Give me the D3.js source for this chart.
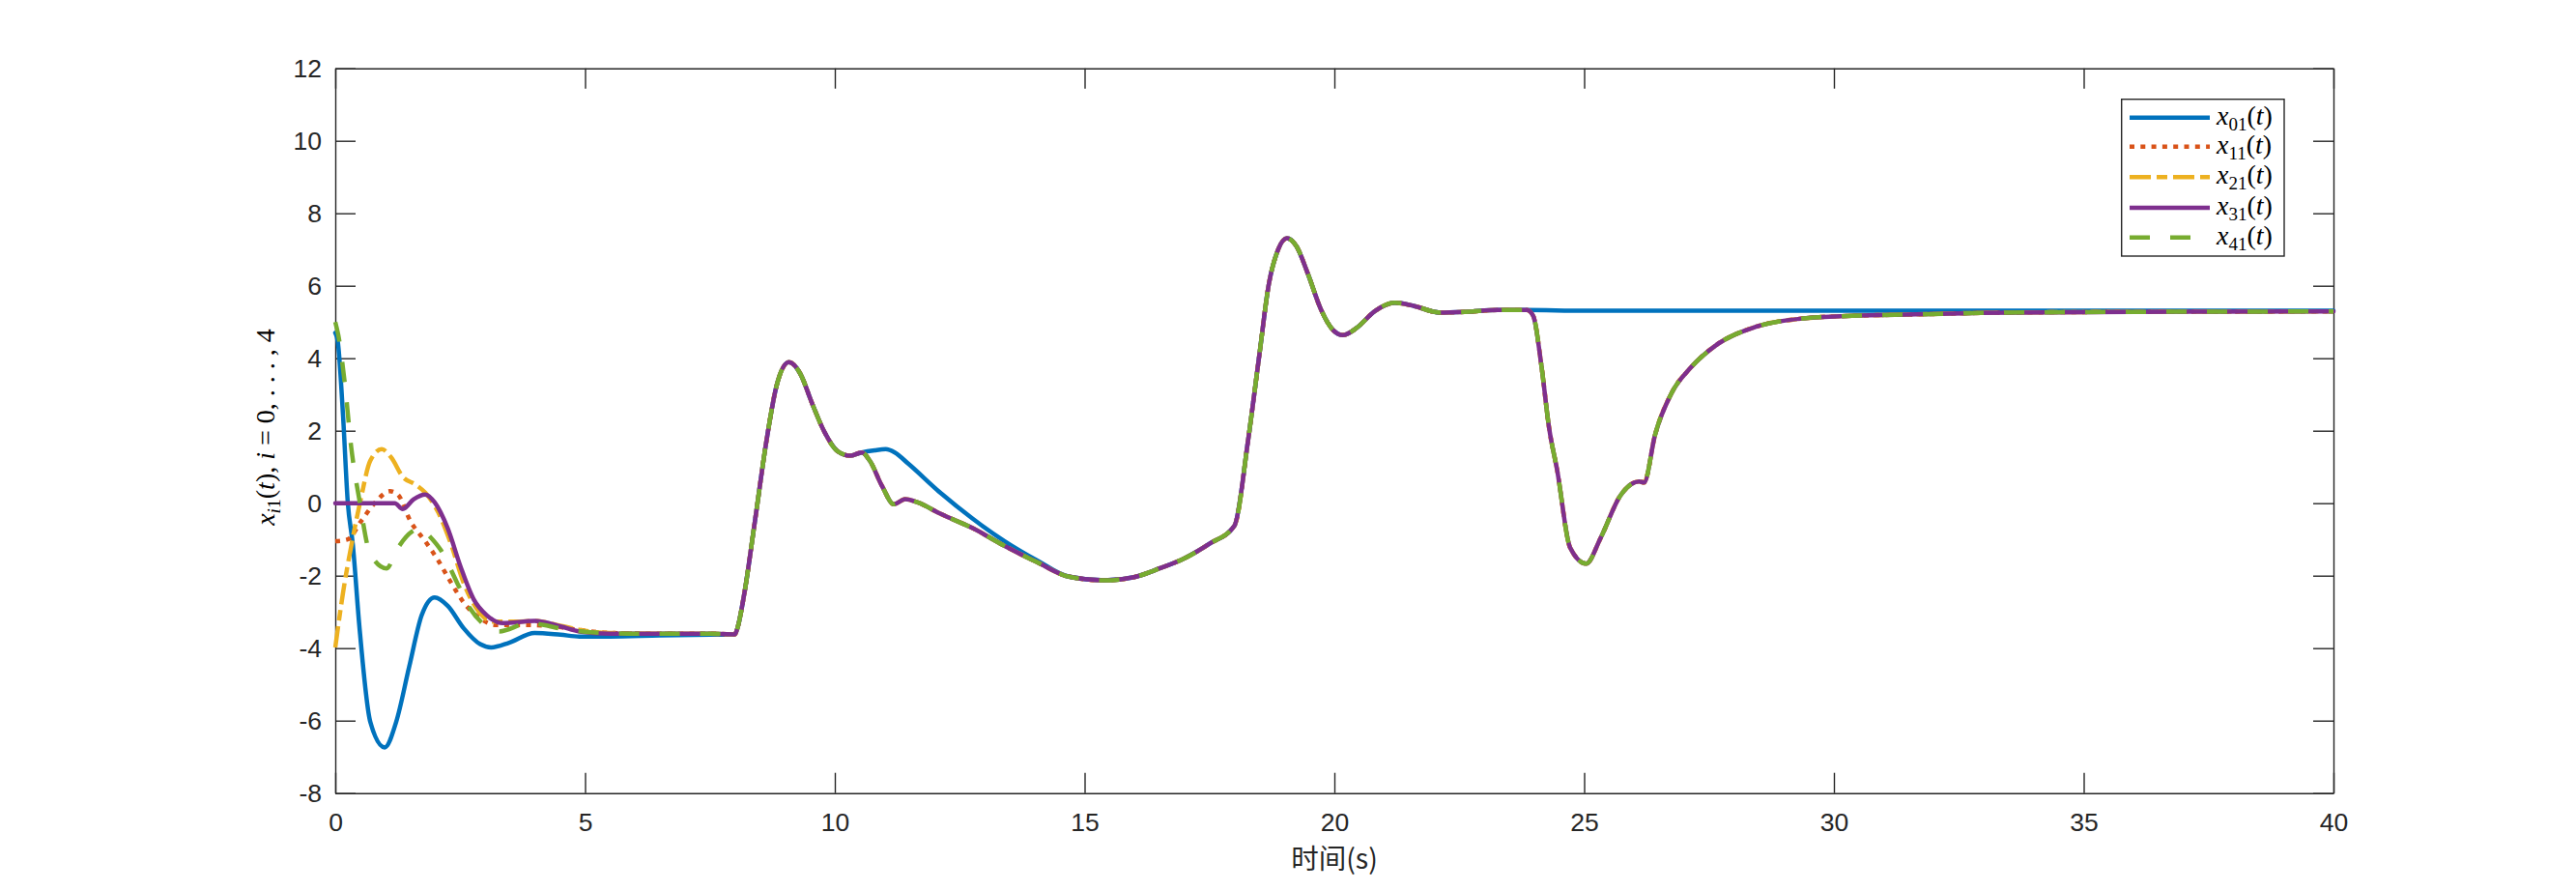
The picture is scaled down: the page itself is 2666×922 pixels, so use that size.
<!DOCTYPE html>
<html>
<head>
<meta charset="utf-8">
<script src="https://cdn.jsdelivr.net/npm/d3@7"></script>
<style>
  html, body { margin: 0; padding: 0; background: #fff; }
  svg { display: block; }
</style>
</head>
<body>
<script>
// ---------------- DATA ----------------
const xTicks = [0, 5, 10, 15, 20, 25, 30, 35, 40];
const yTicks = [-8, -6, -4, -2, 0, 2, 4, 6, 8, 10, 12];
const seriesNames = ["x01", "x11", "x21", "x31", "x41"];

// early transients (0 – 8 s)
const tX01 = [0, 0.05, 0.155, 0.25, 0.35, 0.48, 0.70, 0.99, 1.22, 1.48, 1.73, 1.99, 2.25, 2.57, 2.90, 3.12, 3.48, 3.99, 4.51, 4.89, 5.5, 6.5, 7.5];
const vX01 = [4.7, 4.46, 2.42, 0.02, -1.13, -3.36, -6.03, -6.74, -6.03, -4.51, -3.09, -2.60, -2.83, -3.45, -3.89, -3.98, -3.85, -3.58, -3.63, -3.68, -3.68, -3.65, -3.63];

const tX11 = [0, 0.25, 0.51, 0.77, 1.09, 1.25, 1.51, 1.80, 2.06, 2.32, 2.57, 2.90, 3.22, 3.73, 4.38, 5.0, 5.5, 6.5, 7.5];
const vX11 = [-1.05, -1.0, -0.51, -0.03, 0.33, 0.24, -0.51, -1.05, -1.58, -2.2, -2.74, -3.18, -3.36, -3.36, -3.4, -3.52, -3.58, -3.6, -3.6];

const tX21 = [0, 0.155, 0.35, 0.51, 0.70, 0.93, 1.12, 1.35, 1.61, 1.80, 2.06, 2.32, 2.57, 2.83, 3.15, 3.6, 4.0, 4.5, 5.0, 5.5, 6.5, 7.5];
const vX21 = [-3.98, -2.47, -0.96, 0.11, 1.17, 1.49, 1.26, 0.73, 0.51, 0.29, -0.25, -1.14, -2.2, -2.91, -3.27, -3.27, -3.25, -3.38, -3.52, -3.58, -3.6, -3.6];

const tX31 = [0, 0.5, 1.0, 1.19, 1.35, 1.57, 1.80, 1.99, 2.25, 2.51, 2.77, 3.03, 3.35, 3.99, 4.51, 4.89, 5.5, 6.5, 7.5];
const vX31 = [0, 0, 0, 0, -0.16, 0.11, 0.24, 0.02, -0.69, -1.76, -2.65, -3.09, -3.31, -3.25, -3.4, -3.54, -3.6, -3.6, -3.6];

const tX41 = [0, 0.06, 0.19, 0.32, 0.48, 0.70, 1.03, 1.22, 1.54, 1.73, 1.86, 2.12, 2.44, 2.70, 3.03, 3.28, 3.87, 4.64, 5.2, 6.0, 7.0, 7.5];
const vX41 = [5.0, 4.64, 3.31, 1.53, 0.11, -1.4, -1.8, -1.31, -0.78, -0.69, -0.87, -1.31, -2.2, -2.91, -3.4, -3.54, -3.31, -3.49, -3.57, -3.6, -3.6, -3.6];

// shared by all agents
const tShared1 = [8.0, 8.05, 8.18, 8.40, 8.63, 8.83, 9.08, 9.31, 9.54, 9.79, 10.05, 10.31, 10.54];
const vShared1 = [-3.62, -3.45, -2.56, -0.5, 1.71, 3.22, 3.89, 3.57, 2.77, 1.97, 1.44, 1.31, 1.40];

// followers 10.5 – 14 s
const tFollow1 = [10.70, 10.95, 11.18, 11.41, 11.66, 12.11, 12.76, 13.40, 14.05];
const vFollow1 = [1.17, 0.46, -0.03, 0.11, 0.02, -0.29, -0.69, -1.18, -1.63];

// leader 10.5 – 14 s
const tLeadMid = [10.8, 11.02, 11.2, 11.47, 12.11, 12.76, 13.40, 14.05];
const vLeadMid = [1.46, 1.49, 1.40, 1.09, 0.29, -0.43, -1.05, -1.58];

const tShared2 = [14.69, 15.40, 15.99, 16.50, 17.0, 17.5, 18.0, 18.27, 18.50, 18.69, 18.85, 19.05, 19.24, 19.47, 19.73, 19.98, 20.17, 20.43, 20.82, 21.21, 21.60, 22.11, 22.63, 23.27, 23.85];
const vShared2 = [-2.03, -2.13, -2.04, -1.80, -1.52, -1.12, -0.62, 1.71, 4.11, 6.06, 6.91, 7.31, 7.09, 6.33, 5.35, 4.77, 4.64, 4.82, 5.31, 5.53, 5.44, 5.26, 5.28, 5.33, 5.33];

// followers after 24 s
const tFollow2 = [23.98, 24.14, 24.30, 24.46, 24.72, 25.04, 25.33, 25.72, 26.10, 26.2, 26.42, 26.75, 27.14, 27.65, 28.42, 29.39, 30.36, 31.65, 32.94, 36, 40];
const vFollow2 = [5.17, 3.84, 2.06, 0.91, -1.23, -1.67, -0.96, 0.20, 0.60, 0.57, 1.89, 3.04, 3.75, 4.37, 4.86, 5.10, 5.17, 5.21, 5.25, 5.28, 5.29];

// leader after 24 s
const tLeadEnd = [25, 30, 35, 40];
const vLeadEnd = [5.31, 5.31, 5.31, 5.31];

// ---------------- LAYOUT ----------------
const W = 2666, H = 922;
const L = 347, R = 2415, T = 70.7, B = 820.7;
const colors = ["#0072BD", "#D95319", "#EDB120", "#7E2F8E", "#77AC30"];
const dashes = [null, "5,6.3", "22,6,11,6", null, "21,21"];
const axisColor = "#262626";

const zip = (ts, vs) => ts.map((t, i) => [t, vs[i]]);
const followerTail = [].concat(zip(tShared1, vShared1), zip(tFollow1, vFollow1), zip(tShared2, vShared2), zip(tFollow2, vFollow2));
const leaderTail = [].concat(zip(tShared1, vShared1), zip(tLeadMid, vLeadMid), zip(tShared2, vShared2), zip(tLeadEnd, vLeadEnd));
const seriesData = [
  zip(tX01, vX01).concat(leaderTail),
  zip(tX11, vX11).concat(followerTail),
  zip(tX21, vX21).concat(followerTail),
  zip(tX31, vX31).concat(followerTail),
  zip(tX41, vX41).concat(followerTail)
];

const svg = d3.select("body").append("svg").attr("width", W).attr("height", H);
svg.append("rect").attr("width", W).attr("height", H).attr("fill", "#fff");

const x = d3.scaleLinear().domain([0, 40]).range([L, R]);
const y = d3.scaleLinear().domain([-8, 12]).range([B, T]);

// axes
const tickFont = "'Liberation Sans', Arial, sans-serif";
function styleAxis(g) {
  g.select(".domain").attr("stroke", axisColor).attr("stroke-width", 1.4);
  g.selectAll(".tick line").attr("stroke", axisColor).attr("stroke-width", 1.4);
  g.selectAll(".tick text").attr("fill", axisColor).attr("font-family", tickFont).attr("font-size", 26.5);
}
const gx = svg.append("g").attr("transform", `translate(0,${B})`)
  .call(d3.axisBottom(x).tickValues(xTicks).tickFormat(d3.format("d")).tickSizeInner(-21).tickSizeOuter(0).tickPadding(20));
styleAxis(gx);
const gxt = svg.append("g").attr("transform", `translate(0,${T})`)
  .call(d3.axisTop(x).tickValues(xTicks).tickFormat("").tickSizeInner(-21).tickSizeOuter(0));
styleAxis(gxt);
const gy = svg.append("g").attr("transform", `translate(${L},0)`)
  .call(d3.axisLeft(y).tickValues(yTicks).tickFormat(d3.format("d")).tickSizeInner(-21).tickSizeOuter(0).tickPadding(14));
styleAxis(gy);
gy.selectAll(".tick text").text(d => d < 0 ? "-" + Math.abs(d) : d);
const gyr = svg.append("g").attr("transform", `translate(${R},0)`)
  .call(d3.axisRight(y).tickValues(yTicks).tickFormat("").tickSizeInner(-21).tickSizeOuter(0));
styleAxis(gyr);

// lines
const line = d3.line().x(d => x(d[0])).y(d => y(d[1])).curve(d3.curveMonotoneX);
seriesData.forEach((data, i) => {
  const p = svg.append("path").datum(data)
    .attr("d", line)
    .attr("fill", "none")
    .attr("stroke", colors[i])
    .attr("stroke-width", 4.5)
    .attr("stroke-linejoin", "round");
  if (dashes[i]) p.attr("stroke-dasharray", dashes[i]).attr("stroke-linecap", "butt");
  else p.attr("stroke-linecap", "round");
});

// legend
const mathFont = "'Liberation Serif', 'Times New Roman', serif";
const lg = svg.append("g");
lg.append("rect").attr("x", 2195.7).attr("y", 102.7).attr("width", 168.3).attr("height", 162.3)
  .attr("fill", "#fff").attr("stroke", axisColor).attr("stroke-width", 1.4);
const rowY = [121.7, 151.7, 183.3, 215, 245.7];
seriesNames.forEach((name, i) => {
  const ly = rowY[i];
  const l = lg.append("line").attr("x1", 2204).attr("x2", 2287).attr("y1", ly).attr("y2", ly)
    .attr("stroke", colors[i]).attr("stroke-width", 4.5);
  if (dashes[i]) l.attr("stroke-dasharray", dashes[i]);
  const t = lg.append("text").attr("x", 2294).attr("y", ly + 7)
    .attr("font-family", mathFont).attr("font-size", 28).attr("fill", "#000");
  t.append("tspan").attr("font-style", "italic").text("x");
  t.append("tspan").attr("font-size", 19).attr("dy", 6).text(name.slice(1));
  t.append("tspan").attr("dy", -6).text("(");
  t.append("tspan").attr("font-style", "italic").text("t");
  t.append("tspan").text(")");
});

// x label
svg.append("text").attr("x", (L + R) / 2).attr("y", 899).attr("text-anchor", "middle")
  .attr("font-family", "'Noto Sans CJK SC', 'Liberation Sans', sans-serif").attr("font-size", 28.5)
  .attr("fill", axisColor).text("时间(s)");

// y label
const yl = svg.append("text").attr("transform", `translate(283.5,442) rotate(-90)`)
  .attr("text-anchor", "middle").attr("font-family", mathFont).attr("font-size", 28).attr("fill", "#000");
yl.append("tspan").attr("font-style", "italic").text("x");
yl.append("tspan").attr("font-size", 19.5).attr("dy", 6).attr("font-style", "italic").text("i");
yl.append("tspan").attr("font-size", 19.5).text("1");
yl.append("tspan").attr("dy", -6).text("(");
yl.append("tspan").attr("font-style", "italic").text("t");
yl.append("tspan").text("), ");
yl.append("tspan").attr("font-style", "italic").text("i");
yl.append("tspan").text(" = 0, . . . , 4");
</script>
</body>
</html>
